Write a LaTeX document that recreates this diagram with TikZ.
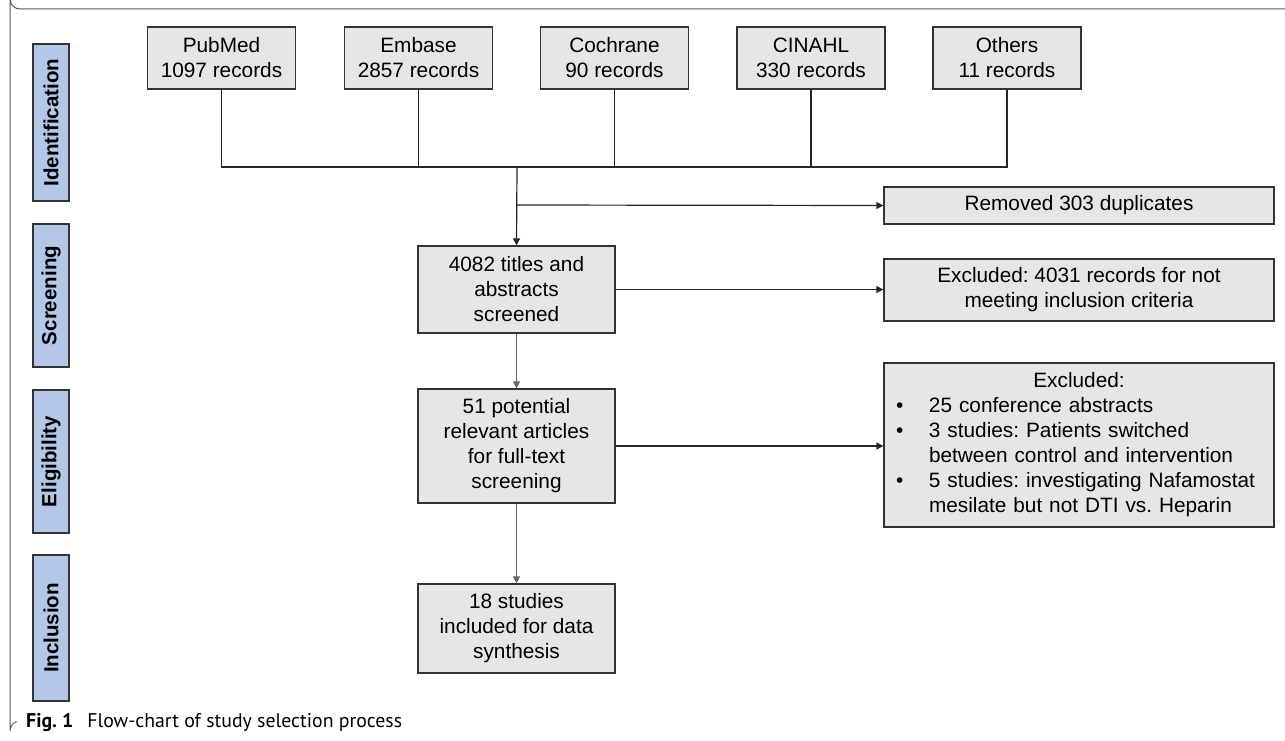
\documentclass[tikz,border=0pt]{standalone}
\usepackage{fontspec}
\setmainfont{Liberation Sans}
\newfontfamily\capfont{PT Sans}
\usetikzlibrary{arrows.meta}
\frenchspacing

\definecolor{boxgray}{HTML}{E6E6E6}
\definecolor{phaseblue}{HTML}{B4C7E7}
\definecolor{edgegray}{HTML}{333333}

\tikzset{
  flowbox/.style={draw=edgegray, line width=1.2pt, fill=boxgray, inner sep=0pt,
    align=center, font=\fontsize{20.8}{25}\selectfont},
  phase/.style={draw=edgegray, line width=1.2pt, fill=phaseblue, inner sep=0pt,
    rotate=90, minimum height=36pt, font=\fontsize{20.5}{22}\selectfont\bfseries},
  link/.style={draw=black!85, line width=1.2pt},
  flowarrow/.style={link, -{Triangle[length=7pt,width=7pt]}},
  softarrow/.style={draw=black!60, line width=1pt, -{Triangle[length=7pt,width=7pt]}}
}

\begin{document}
\begin{tikzpicture}[x=1pt, y=-1pt]
    \useasboundingbox (0,0) rectangle (1285,741);
    % frame
    \draw[black!65, line width=1pt] (1285,9) -- (20,9) arc[start angle=90, end angle=180, radius=10]
        -- (10,731) arc[start angle=180, end angle=250, radius=10];

    % phases
    \node[phase, minimum width=157pt] (ident) at (51,122.5) {Identification};
    \node[phase, minimum width=143pt] (screen) at (51,295.5) {Screening};
    \node[phase, minimum width=143pt] (elig) at (51,461.5) {Eligibility};
    \node[phase, minimum width=146pt] (incl) at (51,628) {Inclusion};

    % sources
    \node[flowbox, minimum width=148pt, minimum height=62pt] (pubmed) at (221.5,58) {PubMed\\1097 records};
    \node[flowbox, minimum width=148pt, minimum height=62pt] (embase) at (418.5,58) {Embase\\2857 records};
    \node[flowbox, minimum width=148pt, minimum height=62pt] (cochrane) at (614.5,58) {Cochrane\\90 records};
    \node[flowbox, minimum width=148pt, minimum height=62pt] (cinahl) at (811,58) {CINAHL\\330 records};
    \node[flowbox, minimum width=148pt, minimum height=62pt] (others) at (1007,58) {Others\\11 records};

    \coordinate (merge) at (517,167);
    \coordinate (split) at (517,205);
    \draw[link] (pubmed.south) |- (merge) -| (others.south);
    \draw[link] (embase.south) -- (embase.south |- merge);
    \draw[link] (cochrane.south) -- (cochrane.south |- merge);
    \draw[link] (cinahl.south) -- (cinahl.south |- merge);

    % main column
    \node[flowbox, minimum width=197pt, minimum height=87pt] (titles) at (516.5,289.5) {4082 titles and\\abstracts\\screened};
    \node[flowbox, minimum width=197pt, minimum height=114pt] (fulltext) at (516.5,446) {51 potential\\relevant articles\\for full-text\\screening};
    \node[flowbox, minimum width=197pt, minimum height=89pt] (included) at (516.5,628.5) {18 studies\\included for data\\synthesis};

    % exclusions
    \node[flowbox, minimum width=390pt, minimum height=37pt] (dupes) at (1079,205.5) {Removed 303 duplicates};
    \node[flowbox, minimum width=390pt, minimum height=62pt] (excl1) at (1079,290) {Excluded: 4031 records for not\\meeting inclusion criteria};
    \node[flowbox, minimum width=390pt, minimum height=164pt, text width=390pt, align=left] (excl2) at (1079,445)
        {\makebox[390pt]{Excluded:}\\
         \makebox[45pt][l]{\hspace*{12pt}\textbullet}25 conference abstracts\\
         \makebox[45pt][l]{\hspace*{12pt}\textbullet}3 studies: Patients switched\\
         \hspace*{45pt}between control and intervention\\
         \makebox[45pt][l]{\hspace*{12pt}\textbullet}5 studies: investigating Nafamostat\\
         \hspace*{45pt}mesilate but not DTI vs. Heparin};

    \draw[flowarrow] (merge) -- (titles.north);
    \draw[flowarrow] (split) -- (dupes.west);
    \draw[flowarrow] (titles.east) -- (titles.east -| excl1.west);
    \draw[flowarrow] (fulltext.east) -- (fulltext.east -| excl2.west);
    \draw[softarrow] (titles.south) -- (fulltext.north);
    \draw[softarrow] (fulltext.south) -- (included.north);

    % caption
    \node[anchor=base west, inner sep=0pt, font=\capfont\fontsize{19.8}{22}\selectfont] (caption) at (26,727)
        {\textbf{Fig. 1}\hspace{14pt}Flow-chart of study selection process};
\end{tikzpicture}
\end{document}
